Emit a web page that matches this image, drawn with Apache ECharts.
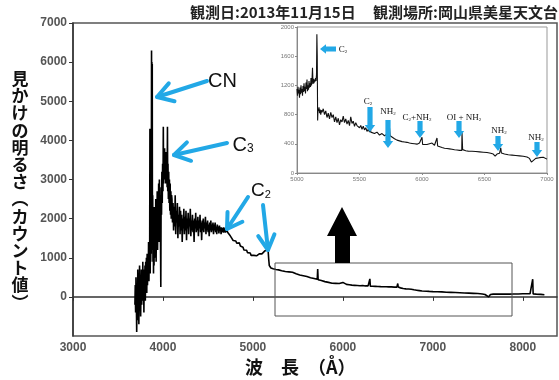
<!DOCTYPE html>
<html><head><meta charset="utf-8">
<script src="https://cdn.jsdelivr.net/npm/echarts@6/dist/echarts.min.js"></script>
<style>html,body{margin:0;padding:0;background:#fff}#c{width:559px;height:380px}</style>
</head><body><div id="c"></div>
<script>
// Comet spectrum: wavelength (Å) vs apparent brightness (counts)
const spectrum = [
  [3688,-200],[3692,300],[3696,-400],[3700,500],[3704,-100],[3708,-900],[3712,200],[3716,-600],[3720,700],[3724,-300],
  [3728,600],[3732,-700],[3736,300],[3740,800],[3744,-300],[3748,500],[3752,-500],[3756,200],[3760,700],[3764,-200],
  [3768,600],[3772,0],[3776,900],[3780,-100],[3784,700],[3788,-400],[3792,500],[3796,100],[3800,800],[3804,-100],
  [3808,900],[3812,200],[3816,1000],[3820,100],[3824,1100],[3828,300],[3832,1000],[3836,500],[3840,1400],[3844,400],
  [3848,1200],[3852,700],[3855,4300],[3858,600],[3861,1800],[3864,900],[3867,2200],[3870,1100],[3873,6300],[3875,1300],
  [3877,6000],[3879,1500],[3881,5950],[3883,1200],[3886,2600],[3889,900],[3892,2000],[3895,600],[3898,1800],[3901,800],
  [3904,2300],[3908,1000],[3912,2100],[3916,1300],[3920,2500],[3924,900],[3928,2200],[3932,1500],[3936,2700],[3940,1200],
  [3944,2400],[3948,1700],[3952,2900],[3956,1400],[3960,3000],[3964,1900],[3968,2600],[3972,1600],[3976,250],[3980,2800],
  [3984,2100],[3988,3200],[3992,2400],[3996,3400],[4000,2700],[4004,4350],[4007,2900],[4010,3700],[4014,3000],[4018,3800],
  [4022,3100],[4026,3700],[4030,2900],[4034,3600],[4038,3000],[4042,3700],[4046,2800],[4050,4350],[4053,2700],[4056,3400],
  [4060,2500],[4064,3200],[4068,2400],[4072,3000],[4076,2200],[4080,2900],[4084,2100],[4088,2700],[4092,2000],[4096,2600],
  [4100,2500],[4106,1900],[4112,2400],[4118,1700],[4124,2300],[4130,1800],[4136,2600],[4142,1600],[4148,2200],[4154,1900],
  [4160,2400],[4166,1500],[4172,2100],[4178,1800],[4184,2300],[4190,1600],[4196,2200],[4202,1700],[4208,2100],[4214,1400],
  [4220,2000],[4226,1750],[4232,2250],[4238,1600],[4244,2050],[4250,1700],[4256,2200],[4262,1450],[4268,2000],[4274,1750],
  [4280,2150],[4286,1600],[4292,2000],[4298,1800],[4304,2250],[4310,1550],[4316,1950],[4322,1700],[4328,2100],[4334,1650],
  [4340,1950],[4346,1400],[4352,2000],[4358,1750],[4364,2150],[4370,1650],[4376,1950],[4382,1700],[4388,2050],[4394,1550],
  [4400,1950],[4406,1750],[4412,2100],[4418,1650],[4424,1900],[4430,1450],[4436,1950],[4442,1700],[4448,2000],[4454,1650],
  [4460,1900],[4466,1750],[4472,2050],[4478,1600],[4484,1900],[4490,1700],[4496,1950],[4502,1650],[4508,1850],[4514,1550],
  [4520,1900],[4526,1700],[4532,1950],[4538,1650],[4544,1850],[4550,1700],[4556,1900],[4562,1600],[4568,1850],[4574,1700],
  [4580,1900],[4586,1650],[4592,1800],[4598,1600],[4604,1850],[4610,1700],[4616,1800],[4622,1620],[4628,1820],[4634,1680],
  [4640,1780],[4646,1600],[4652,1780],[4658,1660],[4664,1760],[4670,1640],[4676,1780],[4682,1650],[4688,1750],[4694,1640],
  [4700,1760],[4706,1660],[4712,1720],[4718,1650],[4724,1700],[4732,1620],[4740,1660],[4748,1560],[4756,1580],[4764,1500],
  [4772,1530],[4780,1440],[4790,1470],[4800,1400],[4810,1430],[4820,1370],[4830,1400],[4840,1350],[4850,1380],[4860,1300],
  [4870,1320],[4880,1250],[4890,1270],[4900,1200],[4910,1230],[4920,1170],[4930,1190],[4940,1130],[4950,1150],[4960,1100],
  [4970,1120],[4980,1060],[4990,1080],[5000,1040],[5010,1060],[5020,1030],[5030,1070],[5040,1050],[5050,1080],[5060,1060],
  [5070,1100],[5080,1080],[5090,1110],[5100,1100],[5110,1140],[5120,1120],[5130,1170],[5140,1160],[5150,1210],[5158,1200],
  [5164,1260],[5170,1150],[5176,950],[5182,800],[5190,760],[5200,740],[5210,760],[5225,720],[5240,740],[5255,700],
  [5270,730],[5285,690],[5300,700],[5320,670],[5340,680],[5360,650],[5380,660],[5400,640],[5420,620],[5440,630],
  [5460,600],[5480,590],[5500,580],[5520,560],[5540,570],[5560,540],[5580,530],[5600,520],[5620,500],[5640,490],
  [5660,480],[5680,470],[5700,460],[5715,450],[5720,710],[5725,440],[5740,430],[5760,420],[5780,400],[5800,390],
  [5820,380],[5840,370],[5860,360],[5880,350],[5900,355],[5920,345],[5940,350],[5960,340],[5980,345],[6000,370],
  [6010,330],[6040,320],[6070,310],[6100,300],[6130,295],[6160,290],[6190,285],[6220,290],[6250,280],[6280,282],
  [6295,275],[6300,460],[6305,275],[6330,270],[6360,268],[6390,265],[6420,262],[6450,260],[6480,258],[6510,255],
  [6540,255],[6570,250],[6600,250],[6610,340],[6615,250],[6640,230],[6670,215],[6700,205],[6730,200],[6760,195],
  [6790,180],[6820,170],[6850,160],[6880,150],[6890,120],[6900,150],[6930,145],[6960,140],[7000,135],[7050,130],
  [7100,128],[7150,120],[7200,115],[7250,110],[7300,105],[7350,100],[7400,95],[7450,90],[7500,85],[7550,75],
  [7580,60],[7600,10],[7620,0],[7640,60],[7670,70],[7700,72],[7750,70],[7800,72],[7850,70],[7900,72],
  [7950,75],[8000,80],[8050,80],[8080,78],[8100,75],[8110,450],[8115,75],[8150,70],[8200,65],[8240,55]
];

// Enlarged 5000–7000 Å section
const insetSpectrum = [
  [5000,1150],[5004,1060],[5008,1180],[5012,1090],[5016,1140],[5020,1030],[5024,1170],[5028,1080],[5032,1200],[5036,1100],
  [5040,1150],[5044,1060],[5048,1190],[5052,1110],[5056,1230],[5060,1120],[5064,1180],[5068,1090],[5072,1240],[5076,1150],
  [5080,1280],[5084,1120],[5088,1200],[5092,1140],[5096,1260],[5100,1170],[5104,1230],[5108,1180],[5112,1300],[5116,1200],
  [5120,1270],[5124,1440],[5128,1220],[5132,1290],[5136,1230],[5140,1280],[5144,1250],[5148,1300],[5152,1260],[5156,1350],
  [5159,1900],[5162,1600],[5165,720],[5168,880],[5172,850],[5176,900],[5180,820],[5185,870],[5190,800],[5195,860],
  [5200,830],[5210,880],[5220,800],[5230,850],[5240,760],[5250,820],[5260,740],[5270,830],[5280,760],[5290,800],
  [5300,700],[5310,770],[5320,690],[5330,750],[5340,660],[5350,730],[5360,700],[5370,780],[5380,690],[5390,740],
  [5400,670],[5410,720],[5420,650],[5430,770],[5440,680],[5450,710],[5460,640],[5470,690],[5480,650],[5490,670],
  [5500,620],[5510,650],[5520,600],[5530,640],[5540,590],[5550,620],[5560,570],[5570,600],[5580,560],[5585,700],
  [5590,560],[5600,580],[5620,540],[5640,560],[5660,520],[5680,540],[5700,510],[5720,530],[5735,520],[5740,620],
  [5745,510],[5760,490],[5780,470],[5800,450],[5820,440],[5840,430],[5860,425],[5880,420],[5900,410],[5920,405],
  [5940,400],[5960,395],[5980,410],[5995,390],[6000,490],[6005,390],[6020,385],[6040,390],[6060,400],[6080,410],
  [6100,380],[6115,380],[6120,480],[6125,370],[6140,360],[6160,350],[6180,340],[6200,335],[6220,330],[6240,325],
  [6260,318],[6280,315],[6300,310],[6318,310],[6320,560],[6325,320],[6330,305],[6350,305],[6370,300],[6400,298],
  [6430,295],[6460,290],[6490,285],[6520,280],[6550,270],[6570,260],[6585,230],[6600,260],[6620,270],[6630,345],
  [6635,275],[6660,260],[6690,250],[6720,245],[6750,240],[6780,235],[6810,230],[6840,220],[6860,200],[6875,150],
  [6890,170],[6910,200],[6940,210],[6970,215],[7000,190]
];

const titleDate = '観測日:2013年11月15日';
const titleSite = '観測場所:岡山県美星天文台';
const yName = ['見','か','け','の','明','る','さ','︵','カ','ウ','ン','ト','値','︶'];
const xName = '波　長　（Å）';
const insetLabels = ['C₂', 'NH₂', 'C₂+NH₂', 'OI + NH₂', 'NH₂', 'NH₂'];

const BLUE = '#22a8e6';
const JP = '"Noto Sans CJK JP", sans-serif';
const SANS = '"Liberation Sans", Arial, sans-serif';
const SERIF = '"Liberation Serif", "DejaVu Serif", serif';
const plain = v => String(v);

function openArrow(tail, tip, len, spread) {
  const a = Math.atan2(tail[1] - tip[1], tail[0] - tip[0]);
  const p1 = [tip[0] + len * Math.cos(a + spread), tip[1] + len * Math.sin(a + spread)];
  const p2 = [tip[0] + len * Math.cos(a - spread), tip[1] + len * Math.sin(a - spread)];
  const st = { stroke: BLUE, lineWidth: 4, lineCap: 'round', lineJoin: 'round', fill: null };
  return [
    { type: 'polyline', z: 20, shape: { points: [tail, tip] }, style: st },
    { type: 'polyline', z: 20, shape: { points: [p1, tip, p2] }, style: st }
  ];
}
function blockDown(x, y0, y1) {
  const s = 2.6, h = 5.2, hl = 7;
  return { type: 'polygon', z: 20, shape: { points: [[x - s, y0], [x + s, y0], [x + s, y1 - hl], [x + h, y1 - hl], [x, y1], [x - h, y1 - hl], [x - s, y1 - hl]] }, style: { fill: BLUE } };
}
function subText(x, y, str, size, font, align) {
  // split "X₂" style labels into normal and subscript runs
  const subs = { '₂': '2', '₃': '3' };
  let rich = '';
  for (const ch of str) rich += subs[ch] ? '{s|' + subs[ch] + '}' : '{n|' + ch + '}';
  return {
    type: 'text', z: 21, x, y,
    style: {
      text: rich, align: align || 'center', verticalAlign: 'middle', textAlign: align || 'center', textVerticalAlign: 'middle',
      rich: {
        n: { fontSize: size, fontFamily: font, fill: '#111', color: '#111', verticalAlign: 'bottom', lineHeight: size * 1.2 },
        s: { fontSize: Math.round(size * 0.6), fontFamily: font, fill: '#111', color: '#111', verticalAlign: 'bottom', lineHeight: size * 1.0 }
      }
    }
  };
}

const chart = echarts.init(document.getElementById('c'), null, { renderer: 'canvas' });

const graphics = [];
graphics.push({ type: 'text', x: 190, y: 12, style: { text: titleDate, font: 'bold 15px ' + JP, fill: '#222', align: 'left', verticalAlign: 'middle', textAlign: 'left', textVerticalAlign: 'middle' } });
graphics.push({ type: 'text', x: 558, y: 12, style: { text: titleSite, font: 'bold 15px ' + JP, fill: '#222', align: 'right', verticalAlign: 'middle', textAlign: 'right', textVerticalAlign: 'middle' } });
graphics.push({ type: 'text', x: 20, y: 70, style: { text: yName.join('\n'), font: 'bold 17px ' + JP, lineHeight: 17.2, fill: '#111', align: 'center', verticalAlign: 'top', textAlign: 'center', textVerticalAlign: 'top' } });
graphics.push({ type: 'text', x: 245, y: 367, style: { text: xName, font: 'bold 18px ' + JP, fill: '#111', align: 'left', verticalAlign: 'middle', textAlign: 'left', textVerticalAlign: 'middle' } });

// feature labels on the main spectrum
graphics.push({ type: 'text', z: 21, x: 208, y: 81, style: { text: 'CN', font: '20px ' + SANS, fill: '#111', align: 'left', verticalAlign: 'middle', textAlign: 'left', textVerticalAlign: 'middle' } });
graphics.push(subText(243, 143, 'C₃', 20, SANS));
graphics.push(subText(261, 189, 'C₂', 19, SANS));
graphics.push(...openArrow([207, 81], [157, 97], 18, 0.55));
graphics.push(...openArrow([227, 143], [174, 155], 18, 0.55));
graphics.push(...openArrow([248, 197], [227, 229], 17, 0.55));
graphics.push(...openArrow([263, 205], [268, 250], 17, 0.5));

// window of the enlarged section and the pointer to it
graphics.push({ type: 'rect', z: 5, shape: { x: 275, y: 263, width: 237, height: 53 }, style: { stroke: '#555', lineWidth: 1, fill: null } });
graphics.push({ type: 'polygon', z: 5, shape: { points: [[342, 207], [357, 236], [350, 236], [350, 263], [335, 263], [335, 236], [327, 236]] }, style: { fill: '#000' } });

// inset annotations
graphics.push({ type: 'polygon', z: 20, shape: { points: [[336, 46.6], [336, 51.4], [326, 51.4], [326, 53.8], [320, 49], [326, 44.2], [326, 46.6]] }, style: { fill: BLUE } });
graphics.push(subText(343, 49, 'C₂', 9, SERIF));
graphics.push(subText(368, 101, insetLabels[0], 9, SERIF), blockDown(370, 107, 132));
graphics.push(subText(388, 111, insetLabels[1], 9, SERIF), blockDown(388, 120, 148));
graphics.push(subText(417, 117, insetLabels[2], 9, SERIF), blockDown(420, 121, 138));
graphics.push(subText(464, 117, insetLabels[3], 9, SERIF), blockDown(459, 121, 138));
graphics.push(subText(499, 130, insetLabels[4], 9, SERIF), blockDown(498, 136, 151));
graphics.push(subText(536, 137, insetLabels[5], 9, SERIF), blockDown(537, 142, 157));

chart.setOption({
  animation: false,
  backgroundColor: '#fff',
  grid: [
    { left: 73, top: 23, width: 484, height: 313, show: true, borderColor: '#555', borderWidth: 1.5, containLabel: false },
    { left: 297, top: 27, width: 250, height: 146, show: true, borderColor: '#999', borderWidth: 1, backgroundColor: '#fff', z: 10, containLabel: false }
  ],
  xAxis: [
    {
      gridIndex: 0, type: 'value', min: 3000, max: 8380, interval: 1000,
      axisLine: { lineStyle: { color: '#333', width: 1.5 } },
      axisTick: { length: 4, lineStyle: { color: '#333' } },
      axisLabel: { color: '#555', fontSize: 12, fontWeight: 'bold', fontFamily: SANS, margin: 6, showMaxLabel: false,
        formatter: v => (v % 1000 === 0 ? String(v) : '') },
      splitLine: { show: false }
    },
    {
      gridIndex: 1, type: 'value', min: 5000, max: 7000, interval: 500, z: 11,
      axisLine: { lineStyle: { color: '#888', width: 1 } },
      axisTick: { length: 2, lineStyle: { color: '#888' } },
      axisLabel: { color: '#777', fontSize: 6, fontFamily: SANS, margin: 3, formatter: plain },
      splitLine: { show: false }
    }
  ],
  yAxis: [
    {
      gridIndex: 0, type: 'value', min: -1000, max: 7000, interval: 1000,
      axisLine: { show: true, lineStyle: { color: '#333', width: 1.5 } },
      axisTick: { show: true, length: 4, lineStyle: { color: '#333' } },
      axisLabel: { color: '#555', fontSize: 12, fontWeight: 'bold', fontFamily: SANS, margin: 6, showMinLabel: false, formatter: plain },
      splitLine: { show: false }
    },
    {
      gridIndex: 1, type: 'value', min: 0, max: 2000, interval: 400, z: 11,
      axisLine: { show: true, lineStyle: { color: '#888', width: 1 } },
      axisTick: { show: true, length: 2, lineStyle: { color: '#888' } },
      axisLabel: { color: '#777', fontSize: 6, fontFamily: SANS, margin: 3, formatter: plain },
      splitLine: { show: false }
    }
  ],
  series: [
    { type: 'line', xAxisIndex: 0, yAxisIndex: 0, data: spectrum, showSymbol: false, symbol: 'none',
      lineStyle: { color: '#000', width: 1.6 }, z: 3 },
    { type: 'line', xAxisIndex: 1, yAxisIndex: 1, data: insetSpectrum, showSymbol: false, symbol: 'none',
      lineStyle: { color: '#111', width: 1.1 }, z: 12 }
  ],
  graphic: { elements: graphics }
});
</script>
</body></html>
